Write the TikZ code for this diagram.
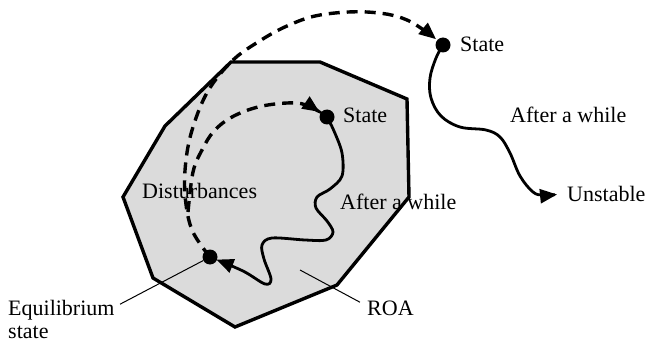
\documentclass[tikz,border=0pt]{standalone}
\usepackage{fontspec}
\setmainfont{Liberation Serif}
\usetikzlibrary{arrows.meta}
\definecolor{roafill}{RGB}{219,219,219}
\tikzset{
  lbl/.style={anchor=base west, inner sep=0pt, font=\fontsize{22}{26}\selectfont},
  dot/.style={circle, fill=black, inner sep=0pt, minimum size=15pt},
  dashcurve/.style={line width=3.4pt, dash pattern=on 11pt off 7pt},
  wavy/.style={line width=2.8pt},
  tip/.style={-{Triangle[length=17pt,width=14pt]}},
  leader/.style={line width=1pt}
}
\begin{document}
\begin{tikzpicture}[x=1pt,y=-1pt]
\useasboundingbox (0,0) rectangle (646,345);
% region of attraction
\draw[line width=3.4pt, fill=roafill, line join=miter]
  (231,62) -- (320,62) -- (407,99) -- (409,197) -- (337,285) -- (235,327)
  -- (153,278) -- (123,197) -- (165,126) -- cycle;
% points
\node[dot] (eq) at (210,257) {};
\node[dot] (s1) at (327,117) {};
\node[dot] (s2) at (443,45) {};
\coordinate (branch) at (188,212);
\coordinate (roapt) at (300,270);
% labels
\node[lbl] (s2lab) at (460,52) {State};
\node[lbl] (aw2) at (510,123) {After a while};
\node[lbl] (un) at (567,201) {Unstable};
\node[lbl] (s1lab) at (343,122) {State};
\node[lbl] (aw1) at (340,209) {After a while};
\node[lbl] (dist) at (142,198) {Disturbances};
\node[lbl] (roa) at (367,315) {ROA};
\node[lbl] (eqlab) at (8,315) {Equilibrium};
\node[lbl] (eqlab2) at (8,338) {state};
% outer disturbance
\draw[dashcurve, tip, shorten >=9pt] plot[smooth, tension=0.6] coordinates {
  (eq) (192,230) (185,195) (186,160) (193,127) (208,91) (232,61) (258,42)
  (287,26) (320,15) (367,12) (407,20) (s2)};
% inner disturbance
\draw[dashcurve, tip, shorten >=9pt] plot[smooth, tension=0.6] coordinates {
  (branch) (193,172) (202,150) (214,131) (232,117) (258,107) (287,103) (306,105) (s1)};
% inner trajectory back to equilibrium
\draw[wavy, tip, shorten >=7pt] plot[smooth, tension=0.55] coordinates {
  (s1) (334,131) (342,153) (342,176) (330,189) (317,197) (316,208) (327,221)
  (333,232) (326,240) (305,240) (272,238) (262,245) (264,259) (271,279)
  (265,284) (243,271) (eq)};
% outer trajectory to unstable
\draw[wavy, tip, shorten >=10pt] plot[smooth, tension=0.6] coordinates {
  (s2) (436,58) (430,78) (431,98) (441,116) (460,127) (486,130) (500,137)
  (510,153) (520,176) (533,192) (544,195) (un.west)};
% leaders
\draw[leader, shorten <=6pt] (eqlab.east |- 0,307) -- (eq);
\draw[leader, shorten <=8pt] (roa.west |- 0,306) -- (roapt);
\end{tikzpicture}
\end{document}
